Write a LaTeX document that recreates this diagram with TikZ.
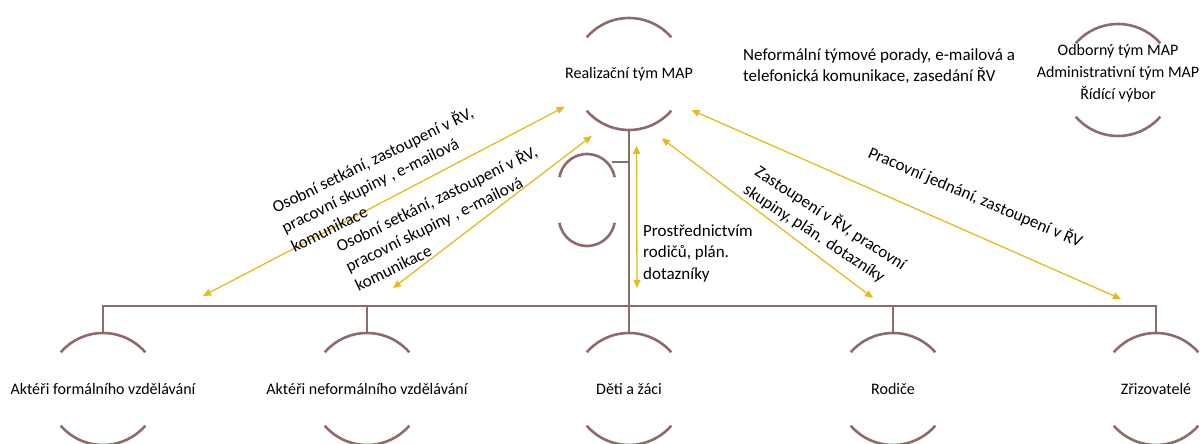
\documentclass[tikz,border=0pt]{standalone}
\usepackage{fontspec}
\setmainfont{Carlito}
\usetikzlibrary{arrows.meta}
\definecolor{arcbrown}{RGB}{142,107,107}
\definecolor{linkgold}{RGB}{228,188,32}
\tikzset{
    member/.style={inner sep=0pt, align=center, font=\fontsize{16}{22}\selectfont},
    orgline/.style={draw=arcbrown, line width=2.6pt},
    link/.style={draw=linkgold, line width=1.3pt, {Triangle[length=8pt,width=7pt]}-{Triangle[length=8pt,width=7pt]}},
    note/.style={inner sep=0pt, align=left, font=\fontsize{17}{21.5}\selectfont}
}

\begin{document}
\begin{tikzpicture}[x=1pt, y=1pt]
    \useasboundingbox (0,0) rectangle (1204,444);

    % members
    \node[member, circle, minimum size=144pt] (map) at (629,370) {Realizační tým MAP};
    \node[member] (side) at (587,244) {};
    \node[member] (rv) at (1118,371) {Odborný tým MAP\\Administrativní tým MAP\\Řídící výbor};
    \node[member] (akt1) at (103,55) {Aktéři formálního vzdělávání};
    \node[member] (akt2) at (367,55) {Aktéři neformálního vzdělávání};
    \node[member] (akt3) at (629,55) {Děti a žáci};
    \node[member] (akt4) at (893,55) {Rodiče};
    \node[member] (akt5) at (1156,55) {Zřizovatelé};

    \foreach \n in {map,akt1,akt2,akt3,akt4,akt5} {
        \draw[orgline] (\n.center) ++(41:56) arc[start angle=41, end angle=139, radius=56];
        \draw[orgline] (\n.center) ++(221:56) arc[start angle=221, end angle=319, radius=56];
    }
    \draw[orgline] ([yshift=-7]rv.center) ++(41:56) arc[start angle=41, end angle=139, radius=56];
    \draw[orgline] ([yshift=-7]rv.center) ++(221:56) arc[start angle=221, end angle=319, radius=56];
    \draw[orgline] ([yshift=18]side.center) ++(10:28) arc[start angle=10, end angle=170, radius=28];
    \draw[orgline] ([yshift=-18]side.center) ++(190:28) arc[start angle=190, end angle=350, radius=28];

    % hierarchy lines
    \draw[orgline] ([yshift=-56]map.center) -- ([yshift=56]akt3.center);
    \draw[orgline] ([yshift=56]akt1.center) -- ++(0,27) -| ([yshift=56]akt5.center);
    \draw[orgline] ([yshift=56]akt2.center) -- ++(0,27);
    \draw[orgline] ([yshift=56]akt4.center) -- ++(0,27);
    \path (side.center) ++(0,38) coordinate (sj);
    \draw[orgline] ([xshift=25]sj) -- (sj -| map.center);

    % communication
    \coordinate (c1) at (203,148);
    \coordinate (c2) at (393,156);
    \coordinate (c3) at (637,156);
    \coordinate (c4) at (873,146);
    \coordinate (c5) at (1121,145);
    \draw[link] (map.207) -- (c1);
    \draw[link] (map.239) -- (c2);
    \draw[link] (map.276) -- (c3);
    \draw[link] (map.297) -- (c4);
    \draw[link] (map.330) -- (c5);

    \node[note, rotate=26, anchor=west] (lab1) at (282,217) {Osobní setkání, zastoupení v ŘV,\\pracovní skupiny , e-mailová\\komunikace};
    \node[note, rotate=26, anchor=west] (lab2) at (346,178) {Osobní setkání, zastoupení v ŘV,\\pracovní skupiny , e-mailová\\komunikace};
    \node[note, anchor=west] (lab3) at (643,191) {Prostřednictvím\\rodičů, plán.\\dotazníky};
    \node[note, rotate=-33, anchor=west] (lab4) at (751,265) {Zastoupení v ŘV, pracovní\\skupiny, plán. dotazníky};
    \node[note, rotate=-23, anchor=west] (lab5) at (869,292) {Pracovní jednání, zastoupení v ŘV};
    \node[note, anchor=west] (neform) at (743,378) {Neformální týmové porady, e-mailová a\\telefonická komunikace, zasedání ŘV};
\end{tikzpicture}
\end{document}
